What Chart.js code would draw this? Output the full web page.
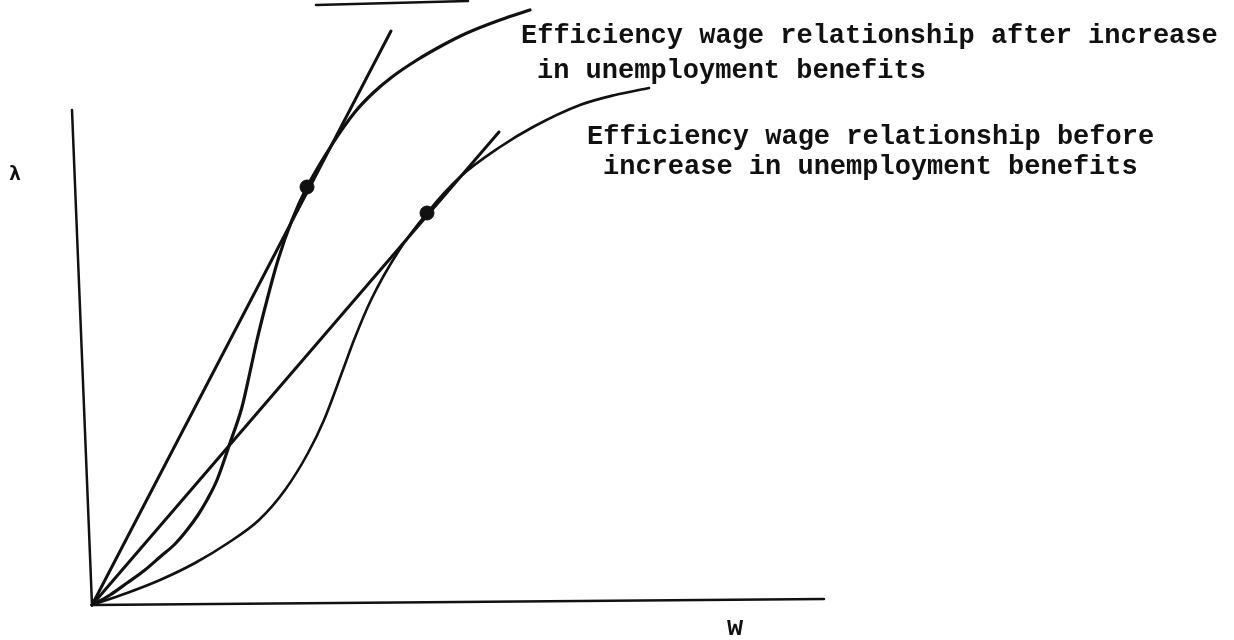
<!DOCTYPE html>
<html>
<head>
<meta charset="utf-8">
<script src="https://cdn.jsdelivr.net/npm/chart.js@4.4.1/dist/chart.umd.min.js"></script>
<style>
  html, body { margin: 0; padding: 0; background: #ffffff; }
  #wrap { width: 1234px; height: 640px; }
</style>
</head>
<body>
<div id="wrap"><canvas id="c" width="1234" height="640"></canvas></div>
<script>
// ---- Data (w on x, lambda on y; arbitrary units, origin at 0,0) ----
const afterCurveW = [0, 18, 35, 53, 68, 83, 95, 106, 115, 125, 138, 150, 158, 165, 175, 186, 200, 215, 241, 263, 281, 300, 325, 351, 375, 408, 438];
const afterCurveL = [0, 10, 22, 35, 48, 61, 75, 90, 105, 125, 162, 198, 233, 265, 305, 345, 385, 418, 462, 493, 512, 528, 545, 560, 572, 585, 595];

const beforeCurveW = [0, 35, 68, 103, 136, 167, 193, 216, 232, 252, 262, 279, 306, 335, 368, 408, 441, 488, 523, 557];
const beforeCurveL = [0, 12, 25, 42, 62, 85, 115, 152, 185, 238, 265, 305, 353, 392, 428, 458, 478, 500, 510, 517];

const afterTangentW = [0, 299];
const afterTangentL = [0, 574];
const beforeTangentW = [0, 407];
const beforeTangentL = [0, 473];

const tangencyW = [215, 335];
const tangencyL = [418, 392];

// axes as drawn (slightly skewed in the original scan)
const xAxisW = [0, 732];
const xAxisL = [0, 6];
const yAxisW = [0, -20];
const yAxisL = [0, 495];

// short stroke fragment at the top edge of the scan
const fragmentW = [224, 376];
const fragmentL = [600, 604];

// text labels
const labelTexts = [
  "Efficiency wage relationship after increase",
  "in unemployment benefits",
  "Efficiency wage relationship before",
  "increase in unemployment benefits"
];
const labelW = [429, 445, 495, 511];
const labelL = [562, 527, 461, 431];
const axisLabelX = "w";
const axisLabelY = "λ";

// ---- build ----
function pts(xs, ys) { return xs.map((x, i) => ({ x: x, y: ys[i] })); }

const ink = "#111111";
const lineDs = (data, width, curve) => ({
  data: data,
  showLine: true,
  borderColor: ink,
  backgroundColor: ink,
  borderWidth: width,
  pointRadius: 0,
  fill: false,
  cubicInterpolationMode: curve ? "monotone" : "default",
  tension: curve ? 0.4 : 0,
  borderCapStyle: "round",
  borderJoinStyle: "round"
});

const textPlugin = {
  id: "textLabels",
  afterDatasetsDraw(chart) {
    const ctx = chart.ctx;
    const xs = chart.scales.x, ys = chart.scales.y;
    ctx.save();
    ctx.fillStyle = ink;
    ctx.textBaseline = "alphabetic";
    ctx.textAlign = "left";
    ctx.font = "bold 27px 'Liberation Mono', 'DejaVu Sans Mono', monospace";
    labelTexts.forEach((t, i) => {
      ctx.fillText(t, xs.getPixelForValue(labelW[i]), ys.getPixelForValue(labelL[i]));
    });
    ctx.textAlign = "center";
    ctx.font = "bold 27px 'Liberation Mono', 'DejaVu Sans Mono', monospace";
    ctx.fillText(axisLabelX, xs.getPixelForValue(643), ys.getPixelForValue(-30));
    ctx.font = "bold 20px 'DejaVu Sans Mono', monospace";
    ctx.fillText(axisLabelY, xs.getPixelForValue(-77), ys.getPixelForValue(425));
    ctx.restore();
  }
};

new Chart(document.getElementById("c"), {
  type: "scatter",
  data: {
    datasets: [
      lineDs(pts(xAxisW, xAxisL), 2.5, false),
      lineDs(pts(yAxisW, yAxisL), 2.5, false),
      lineDs(pts(fragmentW, fragmentL), 2.5, false),
      lineDs(pts(afterTangentW, afterTangentL), 3, false),
      lineDs(pts(beforeTangentW, beforeTangentL), 3, false),
      lineDs(pts(afterCurveW, afterCurveL), 3.2, true),
      lineDs(pts(beforeCurveW, beforeCurveL), 2.6, true),
      {
        data: pts(tangencyW, tangencyL),
        showLine: false,
        pointRadius: 7,
        pointStyle: "circle",
        backgroundColor: ink,
        borderColor: ink,
        borderWidth: 1
      }
    ]
  },
  options: {
    responsive: false,
    animation: false,
    layout: { padding: 0, autoPadding: false },
    plugins: { legend: { display: false }, tooltip: { enabled: false }, title: { display: false } },
    scales: {
      x: { type: "linear", min: -92, max: 1142, display: false },
      y: { type: "linear", min: -35, max: 605, display: false }
    }
  },
  plugins: [textPlugin]
});
</script>
</body>
</html>
